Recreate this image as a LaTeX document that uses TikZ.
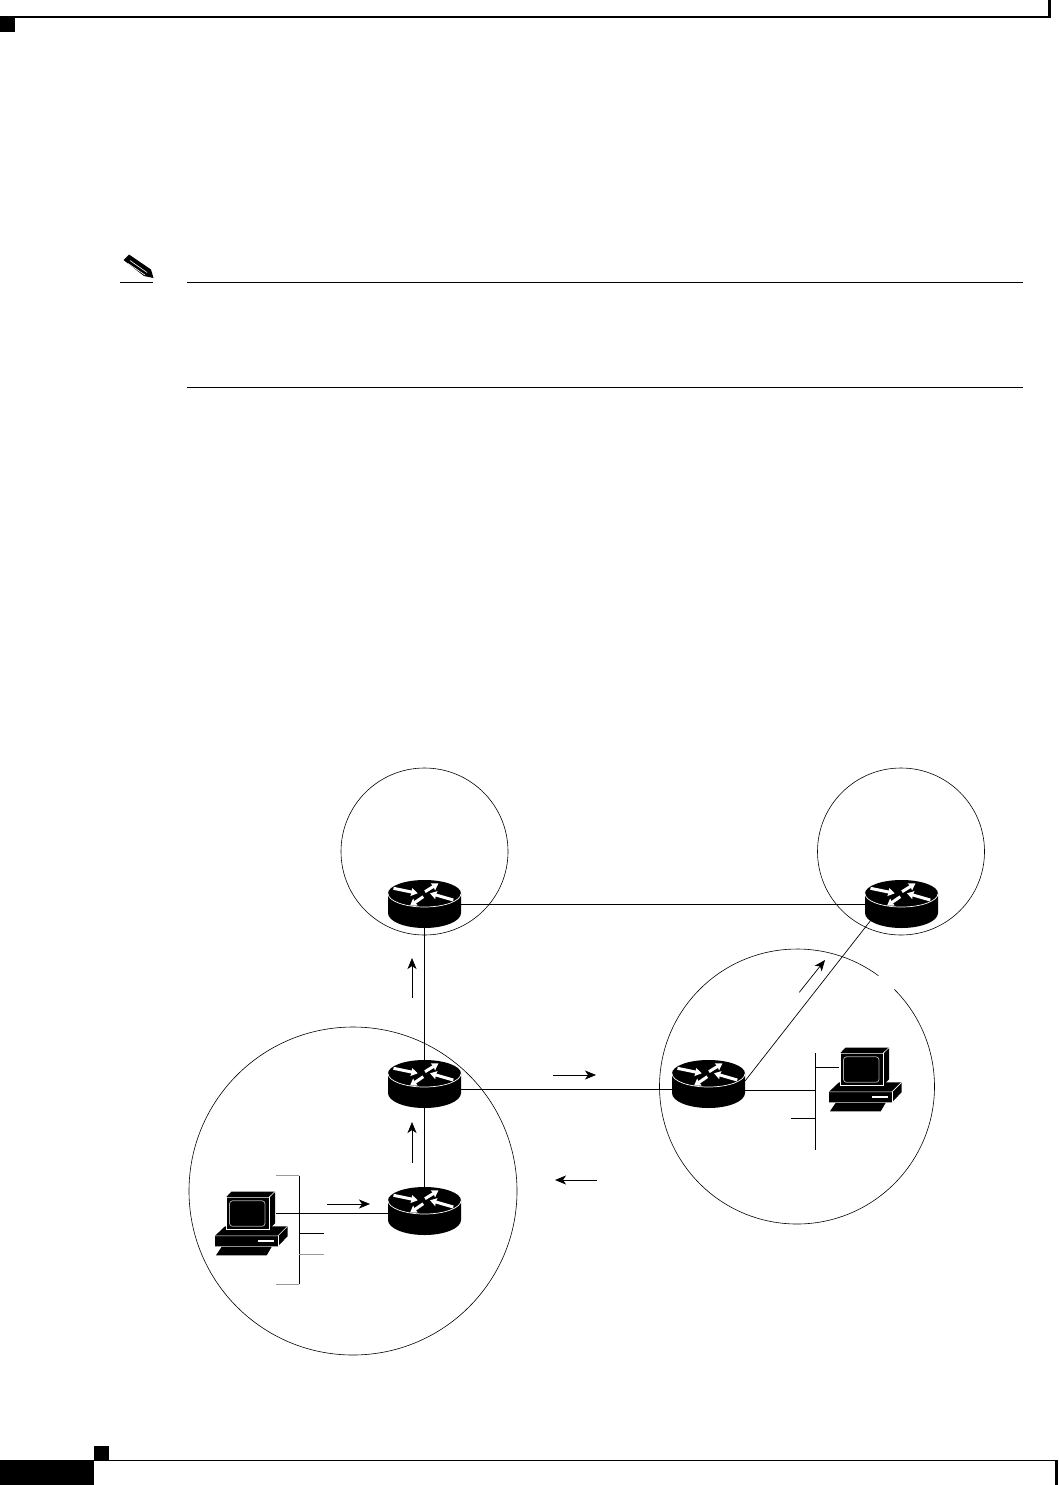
\documentclass[tikz,border=0pt]{standalone}
\usetikzlibrary{arrows.meta}
\tikzset{
  link/.style={draw=black,line width=0.7pt},
  grey tick/.style={draw=black!40,line width=1pt},
  zone/.style={draw=black,line width=0.6pt},
  flow/.style={draw=black,line width=0.7pt,-{Stealth[length=11pt,width=9pt,inset=3pt]}},
  routerbox/.style={minimum width=73pt,minimum height=48pt,inner sep=0pt,outer sep=0pt},
  routerarrow/.style={draw=white,line width=3pt,-{Stealth[length=6.5pt,width=8pt,inset=0.5pt]}},
  pcbox/.style={minimum width=1pt,minimum height=1pt,inner sep=0pt,outer sep=0pt},
  rule/.style={draw=black,line width=0.8pt},
}
\newcommand{\routerpic}[1]{%
  \begin{scope}[shift={(#1)}]
    \fill[black] (-36.5,-10.5) -- (-36.5,9) arc[start angle=180,end angle=0,x radius=36.5,y radius=15] -- (36.5,-10.5) -- cycle;
    \fill[black] (0,-10.5) circle[x radius=36.5,y radius=13.5];
    \draw[white,line width=0.7pt] (-36.5,-10.5) arc[start angle=180,end angle=0,x radius=36.5,y radius=13.5];
    \draw[routerarrow] (-31,-15.7) -- (-6.8,-10.7);
    \draw[routerarrow] (0.5,-12.3) -- (14,-20.7);
    \draw[routerarrow] (28.8,-4) -- (5.5,-10.7);
    \draw[routerarrow] (-1.2,-7.3) -- (-14.5,1.7);
  \end{scope}}
\newcommand{\pcpic}[1]{%
  \begin{scope}[shift={(#1)}]
    % keyboard
    \fill[black] (-4.3,49.5) -- (45.7,49.5) -- (40.7,58) -- (-10,58) -- cycle;
    % base
    \fill[black] (-11,38.5) -- (-1,29) -- (61.5,29) -- (61.5,39) -- (52,49) -- (-11,49) -- cycle;
    \draw[white,line width=0.6pt] (-11,38.5) -- (52,38.5) -- (61.5,29);
    \draw[white,line width=0.6pt] (52,38.5) -- (52,49);
    \fill[white] (32,43) rectangle (48,45);
    % monitor
    \fill[black] (0,0) -- (5.5,-5.7) -- (49,-5.7) -- (49,26) -- (43,32) -- (0,32) -- cycle;
    \draw[white,line width=0.6pt] (0,0) -- (43,0) -- (49,-5.7);
    \draw[white,line width=0.6pt] (0,0) -- (0,32) -- (43,32) -- (43,0);
    \draw[black!35,line width=0.8pt,rounded corners=3pt] (3.5,3.5) rectangle (39,29);
  \end{scope}}
\begin{document}
\begin{tikzpicture}[x=1pt,y=1pt,yscale=-1]
\useasboundingbox (0,0) rectangle (1058,1485);
\fill[white] (0,0) rectangle (1058,1485);
% page furniture
\fill[black] (0,16.3) rectangle (1051,18);
\fill[black] (1048.2,0) rectangle (1051,18);
\fill[black] (0,17) rectangle (15,32);
\fill[black] (0,1460) rectangle (94,1485);
\fill[black] (94,1446) rectangle (109,1460);
\fill[black] (94,1460) rectangle (1058,1461.2);
\fill[black] (1055,1460) rectangle (1058,1485);
% note block
\draw[rule] (120,282.3) -- (153,282.3);
\draw[rule] (187,282.3) -- (1023,282.3);
\draw[rule] (187,387.3) -- (1023,387.3);
\fill[black] (123.5,260) -- (129,254.5) -- (151,269.5) -- (153.5,278) -- (144,276) -- cycle;
\draw[white,line width=0.6pt] (130,260.5) -- (147,272.5);
\draw[white,line width=0.6pt] (128,263.5) -- (145,275);
% zones
\draw[zone] (424.5,851.5) circle[radius=83.5];
\draw[zone] (901,851.5) circle[radius=83.5];
\draw[zone] (353,1191) circle[radius=164];
\draw[zone] (797,1086.5) ++(-45:137.5) arc[start angle=-45,end angle=306.3,radius=137.5];
% named nodes
\node[routerbox] (R1) at (424.5,904) {};
\node[routerbox] (R2) at (901.5,904) {};
\node[routerbox] (R3) at (424.5,1084) {};
\node[routerbox] (R4) at (708.5,1084) {};
\node[routerbox] (R5) at (424.5,1211) {};
\node[pcbox] (PCa) at (226,1197.3) {};
\node[pcbox] (PCb) at (840,1053.3) {};
\coordinate (BusAtop) at (299.3,1175.7);
\coordinate (BusAbot) at (299.3,1284);
\coordinate (BusAl) at (276,1213);
\coordinate (BusAtl) at (276,1175.7);
\coordinate (BusAbl) at (276,1284);
\coordinate (StubA) at (324,1233);
\coordinate (StubB) at (324,1254);
\coordinate (BusBtop) at (815.3,1053);
\coordinate (BusBbot) at (815.3,1150);
\coordinate (BusBmid) at (815.3,1090.5);
\coordinate (BusBpc) at (839,1067);
\coordinate (StubC) at (791,1118);
\coordinate (R2foot) at (871,920);
\coordinate (R4side) at (745,1081);
% links
\draw[link] (R1.east) -- (R2.west);
\draw[link] (R1) -- (R3);
\draw[link] (R3) -- (R5);
\draw[link] (R3.east |- 0,1089) -- (R4.west |- 0,1089);
\draw[link] (R4side) -- (R2foot);
\draw[link] (R4.east |- BusBmid) -- (BusBmid);
\draw[link] (BusBtop) -- (BusBbot);
\draw[link] (BusBtop |- BusBpc) -- (BusBpc);
\draw[link] (StubC) -- (BusBtop |- StubC);
\draw[link] (BusAtop) -- (BusAbot);
\draw[link] (BusAl) -- (R5.west |- BusAl);
\draw[grey tick] (BusAtl) -- (BusAtop);
\draw[grey tick] (BusAbl) -- (BusAbot);
\draw[link] (BusAtop |- StubA) -- (StubA);
\draw[grey tick] (BusAtop |- StubB) -- (StubB);
% equipment
\routerpic{424.5,904}
\routerpic{901.5,904}
\routerpic{424.5,1084}
\routerpic{708.5,1084}
\routerpic{424.5,1211}
\pcpic{226,1197.3}
\pcpic{840,1053.3}
% flow arrows
\coordinate (Fa1) at (412,998); \coordinate (Fa2) at (412,958);
\coordinate (Fb1) at (412,1163); \coordinate (Fb2) at (412,1122);
\coordinate (Fc1) at (327,1204); \coordinate (Fc2) at (370,1204);
\coordinate (Fd1) at (553,1075); \coordinate (Fd2) at (596,1075);
\coordinate (Fe1) at (597,1180); \coordinate (Fe2) at (555,1180);
\coordinate (Ff1) at (799.3,992.3); \coordinate (Ff2) at (825,960);
\draw[flow] (Fa1) -- (Fa2);
\draw[flow] (Fb1) -- (Fb2);
\draw[flow] (Fc1) -- (Fc2);
\draw[flow] (Fd1) -- (Fd2);
\draw[flow] (Fe1) -- (Fe2);
\draw[flow] (Ff1) -- (Ff2);
\end{tikzpicture}
\end{document}
